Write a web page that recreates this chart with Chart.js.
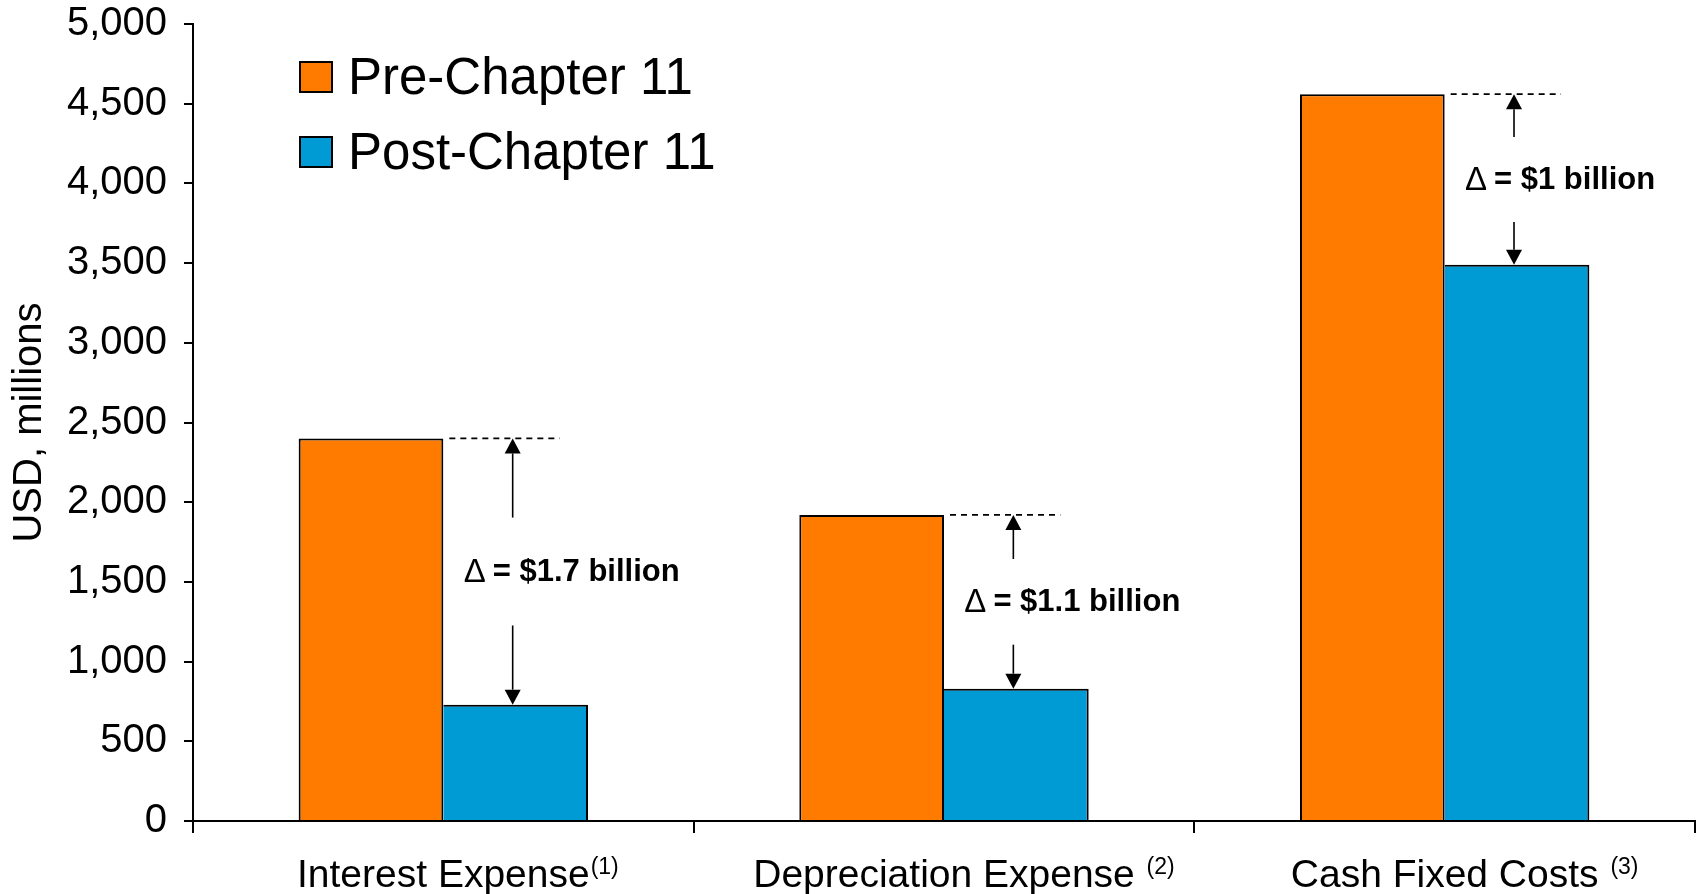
<!DOCTYPE html>
<html>
<head>
<meta charset="utf-8">
<script src="https://cdn.jsdelivr.net/npm/chart.js@4.4.1/dist/chart.umd.min.js"></script>
<style>
  html, body { margin: 0; padding: 0; background: #fff; }
  #wrap { width: 1700px; height: 894px; }
</style>
</head>
<body>
<div id="wrap"><canvas id="chart" width="1700" height="894"></canvas></div>
<script>
// Expense categories and the footnote marks printed after each name
const categories = ["Interest Expense", "Depreciation Expense", "Cash Fixed Costs"];
const footnotes = ["(1)", " (2)", " (3)"];

// USD millions, before and after the Chapter 11 reorganisation
const preChapter11 = [2400, 1920, 4560];
const postChapter11 = [730, 830, 3490];

// Savings callouts between each pair of bars
const deltaLabels = ["$1.7 billion", "$1.1 billion", "$1 billion"];

// Value axis
const yMin = 0;
const yMax = 5000;
const yStep = 500;

const FONT = "'Liberation Sans', Arial, Helvetica, sans-serif";
const ORANGE = "#FF7B00";
const BLUE = "#009BD4";
const X_FONT_SIZE = 39;

// Legend in the upper-left corner of the plot
const legendPlugin = {
  id: "cornerLegend",
  afterDraw(chart) {
    const ctx = chart.ctx;
    ctx.save();
    ctx.font = "51px " + FONT;
    ctx.textBaseline = "middle";
    ctx.textAlign = "left";
    chart.data.datasets.forEach((ds, i) => {
      const cy = 77 + i * 75;
      ctx.fillStyle = ds.backgroundColor;
      ctx.fillRect(300, cy - 15, 32, 30);
      ctx.lineWidth = 2;
      ctx.strokeStyle = "#000";
      ctx.strokeRect(300, cy - 15, 32, 30);
      ctx.fillStyle = "#000";
      ctx.fillText(ds.label, 348, cy + 3);
    });
    ctx.restore();
  }
};

// Footnote superscripts after the category names
const footnotePlugin = {
  id: "footnotes",
  afterDraw(chart) {
    const xs = chart.scales.x;
    const ctx = chart.ctx;
    ctx.save();
    const mainFont = X_FONT_SIZE + "px " + FONT;
    const supFont = "23px " + FONT;
    xs.ticks.forEach((t, i) => {
      const cx = xs.getPixelForTick(i);
      ctx.font = mainFont;
      const w = ctx.measureText(categories[i]).width;
      let note = footnotes[i];
      let x = cx + w / 2 + 1;
      if (note.startsWith(" ")) {
        x += ctx.measureText(" ").width;
        note = note.trim();
      }
      ctx.font = supFont;
      ctx.fillStyle = "#000";
      ctx.textAlign = "left";
      ctx.textBaseline = "alphabetic";
      ctx.fillText(note, x, 874);
    });
    ctx.restore();
  }
};

// Dashed reference line, two arrows and the savings label for each category
const deltaPlugin = {
  id: "deltaCallouts",
  afterDatasetsDraw(chart) {
    const ctx = chart.ctx;
    const pre = chart.getDatasetMeta(0).data;
    const post = chart.getDatasetMeta(1).data;
    ctx.save();
    pre.forEach((bPre, i) => {
      const bPost = post[i];
      const topY = bPre.y;
      const lowY = bPost.y;
      const ax = bPost.x - 3;
      const preRight = bPre.x + bPre.width / 2;

      // dashed level of the taller bar
      ctx.strokeStyle = "#000";
      ctx.lineWidth = 1.7;
      ctx.setLineDash([6, 5]);
      ctx.beginPath();
      ctx.moveTo(preRight + 6, topY);
      ctx.lineTo(bPost.x + 44, topY);
      ctx.stroke();
      ctx.setLineDash([]);

      const span = lowY - topY;
      const mid = topY + span / 2;
      const gap = 22 + 0.12 * span;
      const head = 15, half = 8;

      // upward arrow
      ctx.lineWidth = 1.6;
      ctx.beginPath();
      ctx.moveTo(ax, mid - gap);
      ctx.lineTo(ax, topY + head);
      ctx.stroke();
      ctx.beginPath();
      ctx.moveTo(ax, topY);
      ctx.lineTo(ax - half, topY + head);
      ctx.lineTo(ax + half, topY + head);
      ctx.closePath();
      ctx.fillStyle = "#000";
      ctx.fill();

      // downward arrow
      ctx.beginPath();
      ctx.moveTo(ax, mid + gap);
      ctx.lineTo(ax, lowY - head);
      ctx.stroke();
      ctx.beginPath();
      ctx.moveTo(ax, lowY);
      ctx.lineTo(ax - half, lowY - head);
      ctx.lineTo(ax + half, lowY - head);
      ctx.closePath();
      ctx.fill();

      // label: a light delta sign, then the bold amount
      ctx.textAlign = "left";
      ctx.textBaseline = "middle";
      let lx = ax - 49;
      ctx.font = "33px " + FONT;
      ctx.fillText("\u0394", lx, mid + 1);
      lx += ctx.measureText("\u0394").width + 7;
      ctx.font = "bold 31px " + FONT;
      ctx.fillText("= " + deltaLabels[i], lx, mid + 1);
    });
    ctx.restore();
  }
};

new Chart(document.getElementById("chart"), {
  type: "bar",
  data: {
    labels: categories,
    datasets: [
      {
        label: "Pre-Chapter 11",
        data: preChapter11,
        backgroundColor: ORANGE,
        borderColor: "#000",
        borderWidth: 2,
        categoryPercentage: 0.578,
        barPercentage: 1.0
      },
      {
        label: "Post-Chapter 11",
        data: postChapter11,
        backgroundColor: BLUE,
        borderColor: "#000",
        // the neighbouring orange bar already supplies the shared left edge
        borderWidth: { top: 2, right: 2, bottom: 0, left: 0 },
        categoryPercentage: 0.578,
        barPercentage: 1.0
      }
    ]
  },
  options: {
    responsive: false,
    animation: false,
    devicePixelRatio: 1,
    layout: { padding: { top: 24, right: 5, left: 0, bottom: 0 } },
    plugins: {
      legend: { display: false },
      tooltip: { enabled: false }
    },
    scales: {
      x: {
        grid: {
          display: true,
          drawOnChartArea: false,
          drawTicks: true,
          tickLength: 12,
          color: "#000",
          lineWidth: 2,
          offset: true
        },
        border: { display: true, color: "#000", width: 2 },
        ticks: {
          color: "#000",
          font: { family: FONT, size: X_FONT_SIZE },
          padding: 20,
          maxRotation: 0
        },
        afterFit(scale) {
          scale.height = 73;
          scale.paddingLeft = 0;
          scale.paddingRight = 0;
        }
      },
      y: {
        min: yMin,
        max: yMax,
        grid: {
          display: true,
          drawOnChartArea: false,
          drawTicks: true,
          tickLength: 9,
          color: "#000",
          lineWidth: 2
        },
        border: { display: true, color: "#000", width: 2 },
        ticks: {
          stepSize: yStep,
          color: "#000",
          font: { family: FONT, size: 40 },
          padding: 17,
          callback: v => v.toLocaleString("en-US")
        },
        title: {
          display: true,
          text: "USD, millions",
          color: "#000",
          font: { family: FONT, size: 40 },
          padding: { top: 6, bottom: 0 }
        },
        afterFit(scale) {
          scale.width = 193;
          scale.paddingTop = 0;
          scale.paddingBottom = 0;
        }
      }
    }
  },
  plugins: [legendPlugin, footnotePlugin, deltaPlugin]
});
</script>
</body>
</html>
